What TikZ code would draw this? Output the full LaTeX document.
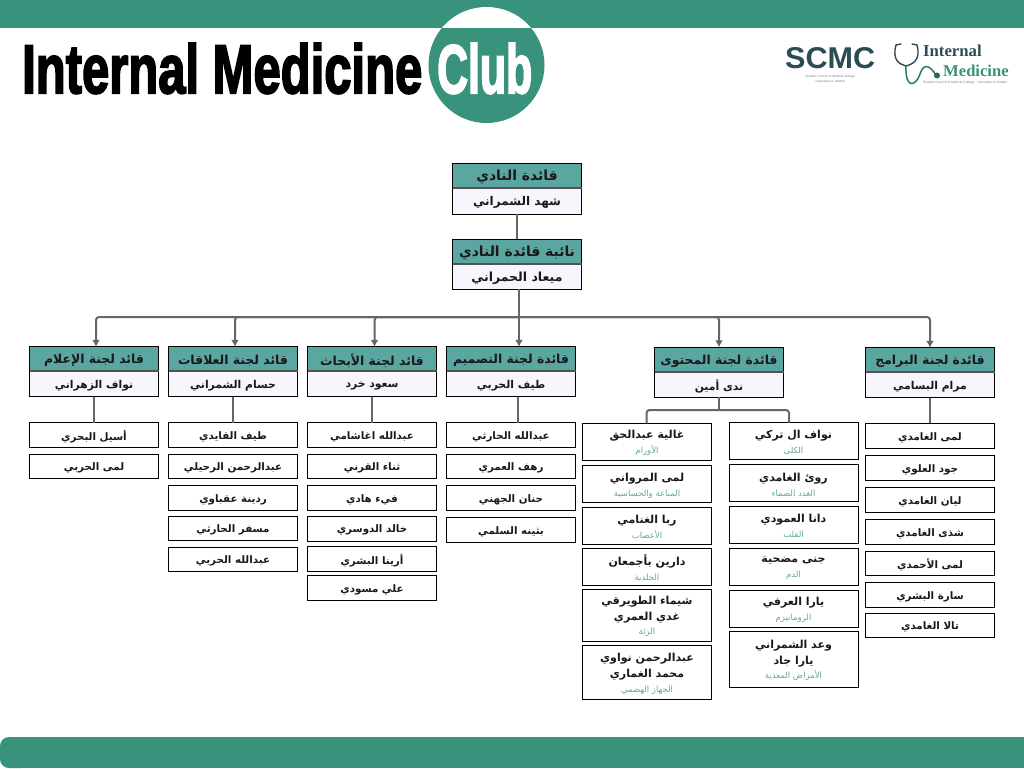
\documentclass[tikz,border=0pt]{standalone}
\usepackage{fontspec}
\usetikzlibrary{positioning, calc, arrows.meta}
\setmainfont{Liberation Sans}
\newfontfamily\arabicfont[Script=Arabic]{DejaVu Sans}
\newfontfamily\titlefont[UprightFont=* Bold,FakeBold=3]{Liberation Sans}
\newfontfamily\logofont{Liberation Serif}
\TeXXeTstate=1
\definecolor{clubgreen}{HTML}{39937C}
\definecolor{headgreen}{HTML}{5BA6A0}
\definecolor{namelilac}{HTML}{F7F6FC}
\definecolor{linkgrey}{HTML}{666666}
\definecolor{logodark}{HTML}{2D4B55}
\newcommand{\ar}[1]{\raisebox{-1.6pt}[\height][\depth]{\arabicfont\bfseries\beginR #1\endR}}
\newcommand{\sub}[1]{\raisebox{-1pt}[\height][\depth]{\arabicfont\fontsize{8.5}{9}\selectfont\color{clubgreen!80}\beginR #1\endR}}
\tikzset{
  boxbase/.style={draw=black, line width=0.9pt, inner sep=0pt, outer sep=0pt, minimum width=129pt, align=center, text=black!90},
  headbox/.style={boxbase, fill=headgreen, minimum height=25pt, font=\fontsize{12.4}{14}\selectfont},
  namebox/.style={boxbase, fill=namelilac, minimum height=26pt, font=\fontsize{10.8}{13}\selectfont},
  memberbox/.style={boxbase, fill=white, anchor=north west, font=\fontsize{10.3}{15.5}\selectfont},
  splitline/.style={linkgrey!80!black, line width=1.6pt},
  link/.style={linkgrey, line width=2pt},
  busarrow/.style={link, rounded corners=3pt, -{Latex[length=7pt,width=8pt]}},
}
\begin{document}
\begin{tikzpicture}[x=1pt,y=-1pt]
  \useasboundingbox (0,0) rectangle (1024,768);%

  % bars and title
  \fill[clubgreen] (0,0) rectangle (1024,28);%
  \fill[clubgreen] (20,737) rectangle (1024,768);%
  \fill[clubgreen, rounded corners=9pt] (30,737) -- (0,737) -- (0,768) -- (30,768) -- cycle;%
  \fill[clubgreen] (486.5,65) circle (58);%
  \begin{scope}
    \clip (400,0) rectangle (570,28);%
    \fill[white] (486.5,65) circle (58);%
  \end{scope}
  \node[anchor=south west, inner sep=0pt] (title) at (22,94) {\resizebox{400pt}{50pt}{\titlefont Internal Medicine}};%
  \node[anchor=south west, inner sep=0pt, text=white] (club) at (437,94) {\resizebox{95pt}{50pt}{\titlefont Club}};%

  % logos
  \node[anchor=south west, inner sep=0pt, text=logodark] (scmc) at (785,69) {\resizebox{90pt}{21pt}{\bfseries SCMC}};%
  \node[below=6pt of scmc.south, inner sep=0pt, text=logodark!70, font=\fontsize{3.2}{3.5}\selectfont] (scmcsub) {Student Council of Medical College};%
  \node[below=2pt of scmcsub, inner sep=0pt, text=logodark!70, font=\fontsize{3.2}{3.5}\selectfont] (scmcuni) {University of Jeddah};%
  \node[anchor=base west, inner sep=0pt, text=logodark, font=\logofont\bfseries\fontsize{16.7}{18}\selectfont] (lint) at (923,56.7) {Internal};%
  \node[anchor=base west, inner sep=0pt, text=clubgreen, font=\logofont\bfseries\fontsize{16.6}{18}\selectfont] (lmed) at (943,76.7) {Medicine};%
  \node[anchor=north west, inner sep=0pt, text=logodark!70, font=\fontsize{3.3}{3.5}\selectfont] (lsub) at (923,81) {Student Council of Medical College - University of Jeddah};%
  \draw[logodark, line width=1.4pt, line cap=round] (901,44) -- (896,45) .. controls (892,60) and (899,64) .. (906,66) .. controls (913,64) and (921,60) .. (917,45) -- (912,44);%
  \draw[clubgreen!80!black, line width=1.5pt, line cap=round] (906,66) .. controls (905,88) and (915,88) .. (920,74) .. controls (924,62) and (930,66) .. (936,75);%
  \fill[clubgreen!70!black] (937,75.5) circle (3);%

  % club leaders
  \node[headbox, font=\fontsize{13.9}{15}\selectfont] (H_lead) at (517,175.5) {\ar{قائدة النادي}};%
  \node[namebox, font=\fontsize{12}{14}\selectfont, below=0pt of H_lead] (N_lead) {\ar{شهد الشمراني}};%
  \node[headbox, font=\fontsize{13.9}{15}\selectfont] (H_vice) at (517,251.5) {\ar{نائبة قائدة النادي}};%
  \node[namebox, font=\fontsize{12.5}{14}\selectfont, minimum height=25pt, below=0pt of H_vice] (N_vice) {\ar{ميعاد الحمراني}};%
  \draw[link] (N_lead) -- (H_vice);%
  \draw[splitline] (H_lead.south west) -- (H_lead.south east);%
  \draw[splitline] (H_vice.south west) -- (H_vice.south east);%

  % committee heads
  \foreach \nm/\x/\y/\hd/\who in {med/94/359/قائد لجنة الإعلام/نواف الزهراني,
      rel/233/359/قائد لجنة العلاقات/حسام الشمراني,
      res/372/359/قائد لجنة الأبحاث/سعود خرد,
      des/511/359/قائدة لجنة التصميم/طيف الحربي,
      con/719/359.5/قائدة لجنة المحتوى/ندى أمين,
      pro/930/360/قائدة لجنة البرامج/مرام البسامي} {%
    \node[headbox, minimum height=24.5pt] (H_\nm) at (\x,\y) {\ar{\hd}};%
    \node[namebox, minimum height=25.5pt, below=0pt of H_\nm] (N_\nm) {\ar{\who}};%
    \draw[splitline] (H_\nm.south west) -- (H_\nm.south east);%
  }

  % bus from the vice leader to the heads
  \coordinate (T) at (519,317);%
  \draw[link] ([xshift=2pt]N_vice.south) -- (T);%
  \foreach \nm/\sh in {med/2, rel/2, res/2.5, des/8, con/0, pro/0} {%
    \draw[busarrow] (T) -| ([xshift=\sh pt]H_\nm.north);%
  }

  % members of each committee: x / top / bottom / name
  \foreach \i/\x/\t/\b/\who in {med_1/29.5/422.7/447.3/أسيل البحري,
      med_2/29.5/454.3/478.3/لمى الحربي,
      rel_1/168.5/422.7/447.3/طيف القايدي,
      rel_2/168.5/454.3/478.3/عبدالرحمن الرحيلي,
      rel_3/168.5/485.3/510.7/ردينة عقباوي,
      rel_4/168.5/516.3/540.7/مسفر الحارثي,
      rel_5/168.5/547.3/571.7/عبدالله الحربي,
      res_1/307.5/422.7/447/عبدالله اغاشامي,
      res_2/307.5/454.3/478.3/ثناء القرني,
      res_3/307.5/485.3/510.7/فيء هادي,
      res_4/307.5/516.3/541/خالد الدوسري,
      res_5/307.5/546.3/571.3/أرينا البشري,
      res_6/307.5/575.7/600.3/علي مسودي,
      des_1/446.5/422.7/447/عبدالله الحارثي,
      des_2/446.5/454.3/478.3/رهف العمري,
      des_3/446.5/485.3/510.7/حنان الجهني,
      des_4/446.5/517.3/542.3/بثينه السلمي,
      pro_1/865.5/423.3/448.3/لمى الغامدي,
      pro_2/865.5/455.7/480.3/جود العلوي,
      pro_3/865.5/487.3/512.3/ليان الغامدي,
      pro_4/865.5/519.3/544.3/شذى الغامدي,
      pro_5/865.5/551.3/575.7/لمى الأحمدي,
      pro_6/865.5/582.3/607.7/سارة البشري,
      pro_7/865.5/613.3/637.7/تالا الغامدي} {%
    \pgfmathsetmacro{\h}{\b-\t}%
    \node[memberbox, minimum height=\h pt] (M_\i) at (\x,\t) {\ar{\who}};%
  }

  % content committee, with the field under each name
  \foreach \i/\x/\t/\b/\who/\fld in {l_1/582.5/423.3/460.3/{\ar{غالية عبدالحق}}/الأورام,
      l_2/582.5/465.7/502.7/{\ar{لمى المرواني}}/المناعة والحساسية,
      l_3/582.5/507.3/544.3/{\ar{ربا الغنامي}}/الأعصاب,
      l_4/582.5/548.3/585.7/{\ar{دارين بأجمعان}}/الجلدية,
      l_5/582.5/589.3/641.3/{\ar{شيماء الطويرقي}\\\ar{غدي العمري}}/الرئة,
      l_6/582.5/645/699.7/{\ar{عبدالرحمن نواوي}\\\ar{محمد الغماري}}/الجهاز الهضمي,
      r_1/729/422.7/459.3/{\ar{نواف ال تركي}}/الكلى,
      r_2/729/464.7/501.7/{\ar{روئ الغامدي}}/الغدد الصماء,
      r_3/729/506.7/543.7/{\ar{دانا العمودي}}/القلب,
      r_4/729/548.3/585.3/{\ar{جنى مضحية}}/الدم,
      r_5/729/590.3/627.3/{\ar{يارا العرفي}}/الروماتيزم,
      r_6/729/631.3/687.3/{\ar{وعد الشمراني}\\\ar{يارا جاد}}/الأمراض المعدية} {%
    \pgfmathsetmacro{\h}{\b-\t}%
    \node[memberbox, font=\fontsize{11}{15.5}\selectfont, minimum height=\h pt] (C_\i) at (\x,\t) {\who\\\sub{\fld}};%
  }

  % links down to the members
  \foreach \nm in {med, rel, res, pro} {%
    \draw[link] (N_\nm) -- (M_\nm_1);%
  }
  \draw[link] ([xshift=7pt]N_des.south) -- ([xshift=7pt]M_des_1.north);%
  \coordinate (J) at (719,410);%
  \draw[link] (N_con) -- (J);%
  \draw[link, rounded corners=3pt] ([xshift=-0.5pt]C_l_1.north) |- (J) -| ([xshift=-4.5pt]C_r_1.north);%
\end{tikzpicture}
\end{document}
